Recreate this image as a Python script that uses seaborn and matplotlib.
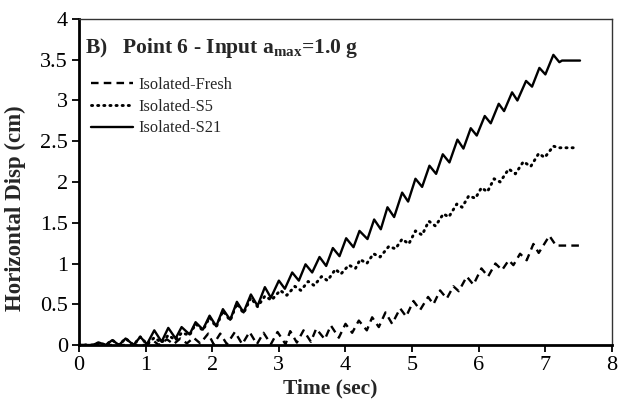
import numpy as np
import pandas as pd
import matplotlib
matplotlib.use("Agg")
import matplotlib.pyplot as plt
import seaborn as sns

# Values (peaks and troughs)
fresh_t = [0.0, 1.0, 1.12, 1.2, 1.32, 1.42, 1.52, 1.62, 1.72, 1.82, 1.94, 2.02, 2.12, 2.22,
           2.34, 2.45, 2.56, 2.67, 2.77, 2.88, 2.98, 3.1, 3.17, 3.27, 3.37, 3.48, 3.56, 3.69,
           3.78, 3.9, 4.0, 4.1, 4.2, 4.32, 4.4, 4.5, 4.6, 4.7, 4.82, 4.91, 5.02, 5.12, 5.24,
           5.32, 5.42, 5.52, 5.62, 5.7, 5.82, 5.92, 6.04, 6.14, 6.25, 6.35, 6.45, 6.52, 6.62,
           6.72, 6.82, 6.9, 7.06, 7.16, 7.52]
fresh_d = [0.0, 0.0, 0.05, 0.0, 0.07, 0.01, 0.08, 0.02, 0.09, 0.02, 0.14, 0.01, 0.14, 0.01,
           0.16, 0.01, 0.16, 0.01, 0.15, 0.01, 0.16, 0.01, 0.17, 0.03, 0.18, 0.04, 0.20, 0.07,
           0.24, 0.09, 0.26, 0.15, 0.30, 0.18, 0.34, 0.22, 0.40, 0.26, 0.45, 0.35, 0.54, 0.43,
           0.59, 0.50, 0.67, 0.57, 0.72, 0.66, 0.84, 0.74, 0.94, 0.84, 1.00, 0.92, 1.04, 0.98,
           1.12, 1.04, 1.24, 1.13, 1.34, 1.22, 1.22]

s5_t = [0.0, 0.2, 0.3, 0.4, 0.5, 0.6, 0.7, 0.82, 0.92, 1.02, 1.13, 1.24, 1.34, 1.45, 1.54,
        1.66, 1.75, 1.86, 1.96, 2.06, 2.16, 2.27, 2.37, 2.47, 2.58, 2.68, 2.79, 2.89, 3.02,
        3.12, 3.24, 3.33, 3.44, 3.53, 3.64, 3.73, 3.85, 3.93, 4.05, 4.15, 4.22, 4.32, 4.42,
        4.52, 4.65, 4.75, 4.85, 4.95, 5.05, 5.15, 5.25, 5.35, 5.47, 5.55, 5.67, 5.75, 5.85,
        5.95, 6.04, 6.13, 6.23, 6.32, 6.45, 6.55, 6.67, 6.78, 6.90, 6.99, 7.12, 7.2, 7.46]
s5_d = [0.0, 0.0, 0.03, 0.0, 0.06, 0.0, 0.08, 0.0, 0.10, 0.01, 0.09, 0.03, 0.12, 0.06, 0.15,
        0.12, 0.26, 0.18, 0.34, 0.22, 0.42, 0.30, 0.51, 0.39, 0.58, 0.47, 0.60, 0.55, 0.67,
        0.61, 0.72, 0.67, 0.78, 0.73, 0.84, 0.79, 0.93, 0.87, 0.98, 0.94, 1.05, 1.00, 1.12,
        1.08, 1.21, 1.18, 1.30, 1.24, 1.40, 1.35, 1.52, 1.46, 1.61, 1.57, 1.73, 1.69, 1.83,
        1.80, 1.93, 1.88, 2.04, 2.00, 2.16, 2.10, 2.25, 2.19, 2.35, 2.30, 2.44, 2.42, 2.42]

s21_t = [0.0, 0.2, 0.3, 0.4, 0.5, 0.6, 0.7, 0.82, 0.92, 1.02, 1.13, 1.24, 1.34, 1.45, 1.54,
         1.66, 1.75, 1.86, 1.96, 2.06, 2.16, 2.27, 2.37, 2.47, 2.58, 2.68, 2.79, 2.88, 3.0,
         3.09, 3.2, 3.3, 3.4, 3.5, 3.61, 3.71, 3.81, 3.91, 4.01, 4.12, 4.21, 4.33, 4.43, 4.53,
         4.63, 4.73, 4.85, 4.94, 5.05, 5.15, 5.26, 5.36, 5.46, 5.56, 5.68, 5.77, 5.88, 5.97,
         6.09, 6.18, 6.30, 6.38, 6.50, 6.58, 6.71, 6.80, 6.91, 7.00, 7.12, 7.21, 7.25, 7.52]
s21_d = [0.0, 0.0, 0.03, 0.0, 0.06, 0.0, 0.08, 0.0, 0.10, 0.01, 0.18, 0.04, 0.21, 0.08, 0.22,
         0.13, 0.28, 0.19, 0.36, 0.23, 0.44, 0.31, 0.53, 0.40, 0.62, 0.48, 0.71, 0.58, 0.79,
         0.69, 0.89, 0.79, 0.99, 0.89, 1.08, 0.97, 1.19, 1.09, 1.31, 1.20, 1.40, 1.30, 1.54,
         1.42, 1.69, 1.57, 1.87, 1.76, 2.04, 1.94, 2.20, 2.10, 2.34, 2.24, 2.52, 2.41, 2.66,
         2.57, 2.81, 2.72, 2.96, 2.87, 3.10, 3.00, 3.24, 3.17, 3.40, 3.32, 3.56, 3.47, 3.49,
         3.49]

sns.set_style("ticks")
plt.rcParams['font.family'] = ['Liberation Serif', 'DejaVu Serif']
plt.rcParams['mathtext.fontset'] = 'custom'
plt.rcParams['mathtext.rm'] = 'Liberation Serif'
plt.rcParams['mathtext.bf'] = 'Liberation Serif:bold'

fig = plt.figure(figsize=(6.19, 3.99), dpi=100)
ax = fig.add_axes([0.1276, 0.1353, 0.8611, 0.8171])

df_fresh = pd.DataFrame({'t': fresh_t, 'd': fresh_d})
df_s5 = pd.DataFrame({'t': s5_t, 'd': s5_d})
df_s21 = pd.DataFrame({'t': s21_t, 'd': s21_d})

sns.lineplot(data=df_fresh, x='t', y='d', ax=ax, color='black', lw=1.7,
             linestyle=(0, (3.2, 2.2)), sort=False, estimator=None, label='Isolated-Fresh')
sns.lineplot(data=df_s5, x='t', y='d', ax=ax, color='black', lw=2.1,
             linestyle=(0, (0.4, 1.7)), dash_capstyle='round', sort=False, estimator=None,
             label='Isolated-S5')
sns.lineplot(data=df_s21, x='t', y='d', ax=ax, color='black', lw=1.7,
             sort=False, estimator=None, label='Isolated-S21')

ax.set_xlim(0, 8)
ax.set_ylim(0, 4)
ax.set_xticks(range(0, 9))
ax.set_yticks(np.arange(0, 4.01, 0.5))
ax.set_yticklabels(['0', '0.5', '1', '1.5', '2', '2.5', '3', '3.5', '4'])
ax.tick_params(axis='both', direction='out', length=5, width=1.3, labelsize=16,
               color='black', labelcolor='black', pad=3)
ax.set_xlabel('Time (sec)', fontsize=15.5, fontweight='bold')
ax.set_ylabel('Horizontal Disp (cm)', fontsize=16.5, fontweight='bold')
ax.xaxis.set_label_coords(0.471, -0.104)
ax.yaxis.set_label_coords(-0.099, 0.42)

for side in ['left', 'bottom']:
    ax.spines[side].set_linewidth(2.0)
    ax.spines[side].set_color('black')
for side in ['top', 'right']:
    ax.spines[side].set_visible(True)
    ax.spines[side].set_linewidth(1.0)
    ax.spines[side].set_color('#333333')

ax.text(0.012, 0.911, r'B)   Point 6 - Input $\mathbf{a_{max}}$=1.0 g', transform=ax.transAxes,
        fontsize=15.5, fontweight='bold', va='center', ha='left')

leg = ax.legend(loc='upper left', bbox_to_anchor=(-0.006, 0.868), frameon=False, fontsize=11.8,
                handlelength=2.6, handletextpad=0.3, labelspacing=0.35)

fig.savefig('out.png', dpi=100)
